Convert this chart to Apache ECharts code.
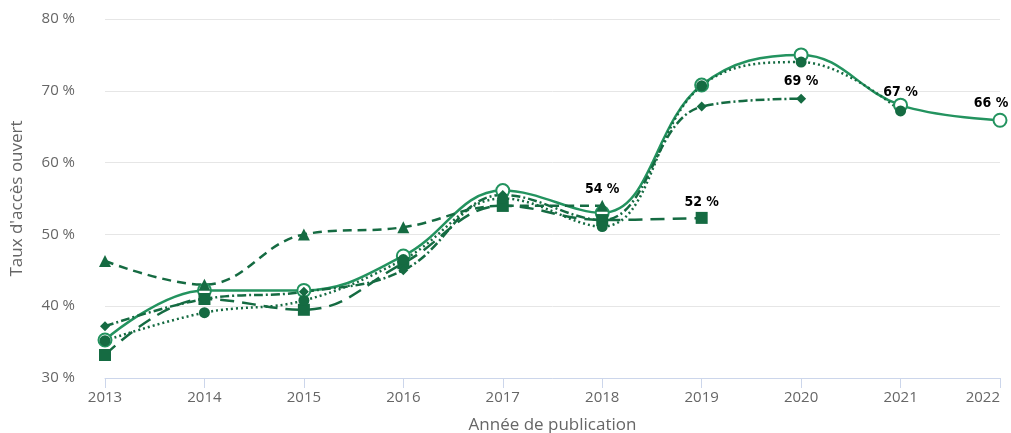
<!DOCTYPE html>
<html>
<head>
<meta charset="utf-8">
<script src="https://cdn.jsdelivr.net/npm/echarts@6/dist/echarts.min.js"></script>
<style>
  html, body { margin: 0; padding: 0; background: #fff; }
  #chart { width: 1011px; height: 433px; }
</style>
</head>
<body>
<div id="chart"></div>
<script>
// années
const years = ['2013', '2014', '2015', '2016', '2017', '2018', '2019', '2020', '2021', '2022']
// taux d'accès ouvert par série (%)
const serieCercleVide = [35.3, 42.2, 42.2, 47.0, 56.1, 53.0, 70.8, 75.0, 68.0, 65.9]
const serieCerclePlein = [35.2, 39.1, 40.8, 46.5, 55.0, 51.1, 70.7, 74.0, 67.2]
const serieLosange = [37.2, 41.0, 42.0, 45.0, 55.5, 52.0, 67.8, 68.9]
const serieTriangle = [46.3, 43.0, 50.0, 51.0, 54.0, 54.0]
const serieCarre = [33.2, 41.0, 39.5, 46.0, 54.0, 52.0, 52.3]
// étiquettes affichées (dernier point)
const labelCercleVide = '66 %'
const labelCerclePlein = '67 %'
const labelLosange = '69 %'
const labelTriangle = '54 %'
const labelCarre = '52 %'

const light = '#23935f'
const dark = '#156b42'

// étiquette seulement sur le dernier point
function withLastLabel (values, text, dist, dx) {
  return values.map((v, i) => {
    if (i !== values.length - 1) return v
    return {
      value: v,
      label: {
        show: true,
        position: 'top',
        distance: dist,
        offset: [dx || 0, 0],
        formatter: text,
        color: '#000',
        fontWeight: 'bold',
        fontSize: 14,
        fontFamily: 'DejaVu Sans Condensed',
        textBorderColor: '#fff',
        textBorderWidth: 2
      }
    }
  })
}

function line (name, values, text, dist, dx, opts) {
  return Object.assign({
    name: name,
    type: 'line',
    smooth: 0.4,
    showAllSymbol: true,
    data: withLastLabel(values, text, dist, dx),
    color: dark,
    lineStyle: { width: 2.5, color: dark },
    itemStyle: { color: dark, borderWidth: 0 }
  }, opts)
}

// le dernier libellé est calé à droite pour rester dans le cadre
const xData = years.map((y, i) => i === years.length - 1 ? { value: y, textStyle: { align: 'right' } } : y)

const chart = echarts.init(document.getElementById('chart'))
chart.setOption({
  animation: false,
  grid: { left: 105, right: 11, top: 19, bottom: 55, outerBoundsMode: 'none' },
  xAxis: {
    type: 'category',
    data: xData,
    boundaryGap: false,
    name: 'Année de publication',
    nameLocation: 'middle',
    nameGap: 39,
    nameTextStyle: { color: '#666', fontSize: 17, fontFamily: 'Open Sans' },
    axisLine: { lineStyle: { color: '#ccd6eb', width: 1 } },
    axisTick: { show: true, length: 10, lineStyle: { color: '#ccd6eb' }, alignWithLabel: true },
    axisLabel: { color: '#666', fontSize: 15, fontFamily: 'Open Sans', margin: 12 },
    splitLine: { show: false }
  },
  yAxis: {
    type: 'value',
    min: 30,
    max: 80,
    interval: 10,
    name: "Taux d'accès ouvert",
    nameLocation: 'middle',
    nameGap: 79,
    nameRotate: 90,
    nameTextStyle: { color: '#666', fontSize: 17, fontFamily: 'Open Sans' },
    axisLine: { show: false },
    axisTick: { show: false },
    axisLabel: { color: '#666', fontSize: 15, fontFamily: 'Open Sans', margin: 30, formatter: '{value} %' },
    splitLine: { lineStyle: { color: '#e6e6e6', width: 1 } }
  },
  series: [
    line('Cercle vide', serieCercleVide, labelCercleVide, 2, -9, {
      symbol: 'emptyCircle', symbolSize: 13,
      color: light,
      lineStyle: { width: 2.5, color: light },
      itemStyle: { color: light, borderColor: light, borderWidth: 2.5 }
    }),
    line('Triangle', serieTriangle, labelTriangle, 3, 0, {
      symbol: 'triangle', symbolSize: 12,
      lineStyle: { width: 2.5, color: dark, type: [9, 6] }
    }),
    line('Carré', serieCarre, labelCarre, 3, 0, {
      symbol: 'rect', symbolSize: 12,
      lineStyle: { width: 2.5, color: dark, type: [14, 8] }
    }),
    line('Losange', serieLosange, labelLosange, 5, 0, {
      symbol: 'diamond', symbolSize: 10,
      lineStyle: { width: 2.5, color: dark, type: [9, 3, 2, 3] }
    }),
    line('Cercle plein', serieCerclePlein, labelCerclePlein, 6, 0, {
      symbol: 'circle', symbolSize: 11,
      lineStyle: { width: 2.5, color: dark, type: [2, 3] }
    })
  ]
})
</script>
</body>
</html>
